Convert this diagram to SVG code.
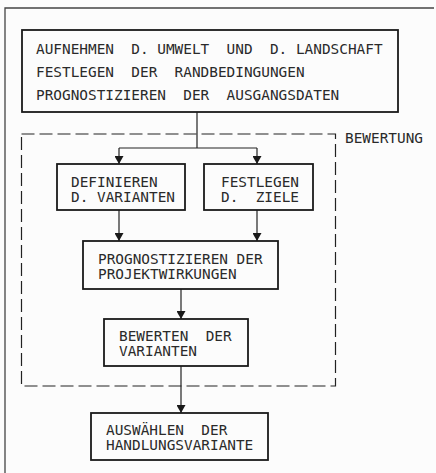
<svg xmlns="http://www.w3.org/2000/svg" width="436" height="473" viewBox="0 0 436 473">
<style>
  .bg { fill: #fcfcfc; }
  .frame { fill: none; stroke: #444; stroke-width: 1.3; }
  .box { fill: none; stroke: #1a1a1a; stroke-width: 1.8; }
  .dash { fill: none; stroke: #222; stroke-width: 1.2; stroke-dasharray: 13 5; }
  .conn { fill: none; stroke: #222; stroke-width: 1.2; }
  text { font-family: "DejaVu Sans Mono", "Liberation Mono", monospace; font-size: 14.4px; fill: #2a2a2a; }
</style>
<defs>
  <marker id="arrow" viewBox="0 0 8 9" refX="8" refY="4.5" markerWidth="8" markerHeight="9" markerUnits="userSpaceOnUse" orient="auto">
    <path d="M0,0 L8,4.5 L0,9 Z" fill="#1a1a1a"/>
  </marker>
</defs>
<rect class="bg" x="0" y="0" width="436" height="473"/>
<path class="frame" d="M5,473 V8 H434"/>

<g id="bewertung">
  <rect class="dash" x="21.5" y="134" width="314" height="252"/>
  <text x="345" y="142.5">BEWERTUNG</text>
</g>

<g id="connectors">
  <path class="conn" d="M197,112 V148 M119,148 H257"/>
  <path class="conn" d="M119,148 V164" marker-end="url(#arrow)"/>
  <path class="conn" d="M257,148 V164" marker-end="url(#arrow)"/>
  <path class="conn" d="M119,210 V241" marker-end="url(#arrow)"/>
  <path class="conn" d="M257,210 V241" marker-end="url(#arrow)"/>
  <path class="conn" d="M181,289 V319" marker-end="url(#arrow)"/>
  <path class="conn" d="M181,366 V413" marker-end="url(#arrow)"/>
</g>

<g id="aufnehmen">
  <rect class="box" x="22" y="30" width="376" height="82"/>
  <text x="36" y="54" xml:space="preserve">AUFNEHMEN  D. UMWELT  UND  D. LANDSCHAFT</text>
  <text x="36" y="77" xml:space="preserve">FESTLEGEN  DER  RANDBEDINGUNGEN</text>
  <text x="36" y="100" xml:space="preserve">PROGNOSTIZIEREN  DER  AUSGANGSDATEN</text>
</g>

<g id="varianten">
  <rect class="box" x="57" y="164" width="128" height="46"/>
  <text x="71" y="186.5" xml:space="preserve">DEFINIEREN</text>
  <text x="71" y="201.5" xml:space="preserve">D. VARIANTEN</text>
</g>

<g id="ziele">
  <rect class="box" x="204" y="164" width="109" height="46"/>
  <text x="221" y="186.5" xml:space="preserve">FESTLEGEN</text>
  <text x="221" y="201.5" xml:space="preserve">D.  ZIELE</text>
</g>

<g id="projektwirkungen">
  <rect class="box" x="83" y="241" width="195" height="48"/>
  <text x="98" y="263.5" xml:space="preserve">PROGNOSTIZIEREN DER</text>
  <text x="98" y="278.5" xml:space="preserve">PROJEKTWIRKUNGEN</text>
</g>

<g id="bewerten">
  <rect class="box" x="104" y="319" width="144" height="47"/>
  <text x="119" y="341" xml:space="preserve">BEWERTEN  DER</text>
  <text x="119" y="355.5" xml:space="preserve">VARIANTEN</text>
</g>

<g id="auswaehlen">
  <rect class="box" x="91" y="413" width="177" height="47"/>
  <text x="106" y="434.5" xml:space="preserve">AUSWÄHLEN  DER</text>
  <text x="106" y="449.5" xml:space="preserve">HANDLUNGSVARIANTE</text>
</g>
</svg>
